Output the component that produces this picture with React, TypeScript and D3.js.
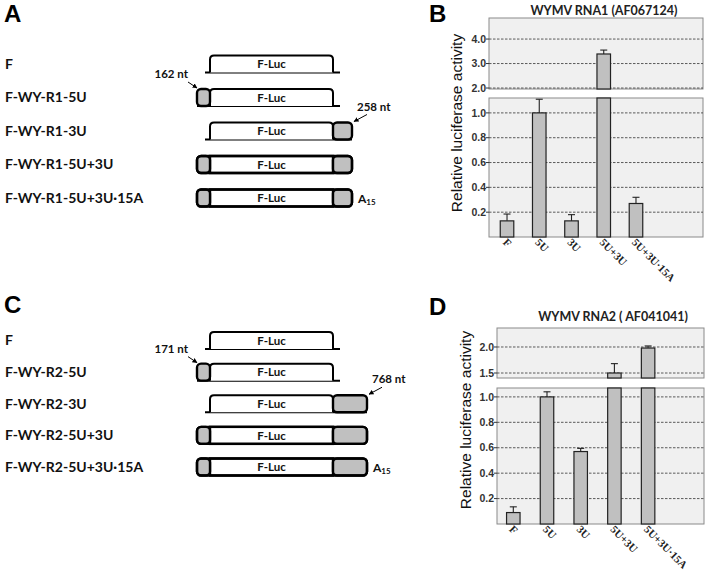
import React from "react";
import * as d3 from "d3";

// ---------------- data ----------------
const constructsR1 = ["F", "F-WY-R1-5U", "F-WY-R1-3U", "F-WY-R1-5U+3U", "F-WY-R1-5U+3U·15A"];
const constructsR2 = ["F", "F-WY-R2-5U", "F-WY-R2-3U", "F-WY-R2-5U+3U", "F-WY-R2-5U+3U·15A"];
const has5UTR = [false, true, false, true, true];
const has3UTR = [false, false, true, true, true];
const hasPolyA = [false, false, false, false, true];
const utrLabelsR1 = ["162 nt", "258 nt"];
const utrLabelsR2 = ["171 nt", "768 nt"];

const categories = ["F", "5U", "3U", "5U+3U", "5U+3U·15A"];
const rna1Mean = [0.13, 1.0, 0.13, 3.39, 0.27];
const rna1Err = [0.055, 0.11, 0.05, 0.16, 0.05];
const rna2Mean = [0.09, 1.0, 0.57, 1.5, 1.98];
const rna2Err = [0.045, 0.04, 0.025, 0.18, 0.04];
const rna1LowTicks = [0.2, 0.4, 0.6, 0.8, 1.0];
const rna1HighTicks = [2.0, 3.0, 4.0];
const rna2LowTicks = [0.2, 0.4, 0.6, 0.8, 1.0];
const rna2HighTicks = [1.5, 2.0];

const SANS = "Lato, 'Open Sans', sans-serif";
const ARIAL = "'Liberation Sans', Arial, sans-serif";
const SERIF = "'Liberation Serif', 'Times New Roman', serif";

// ---------------- construct diagrams ----------------
type ConstructProps = {
  names: string[];
  rowRange: [number, number];
  x5: [number, number];
  xLuc: [number, number];
  x3: [number, number];
  utrLabels: string[];
  letter: string;
  letterY: number;
};

function ConstructPanel(p: ConstructProps) {
  const y = d3.scalePoint<number>().domain(d3.range(p.names.length)).range(p.rowRange);
  const h = 17;
  const r = 4;
  const sw = 2.4;
  return (
    <g>
      <text x={4} y={p.letterY} fontFamily={ARIAL} fontWeight="bold" fontSize={24} fill="#000">{p.letter}</text>
      {p.names.map((name, i) => {
        const cy = y(i)!;
        const top = cy - h / 2;
        const bot = cy + h / 2;
        const closed = has5UTR[i] && has3UTR[i];
        const [l, rr] = p.xLuc;
        const openPath = `M${l},${bot} V${top + r} Q${l},${top} ${l + r},${top} H${rr - r} Q${rr},${top} ${rr},${top + r} V${bot}`;
        const lineStart = has5UTR[i] ? p.x5[0] : l - 5;
        const lineEnd = has3UTR[i] ? p.x3[1] : rr + 7;
        return (
          <g key={name}>
            <text x={5} y={cy} dy="0.35em" fontFamily={SANS} fontWeight="bold" fontSize={14} fill="#111">{name}</text>
            {!closed && (
              <line x1={lineStart} x2={lineEnd} y1={bot} y2={bot} stroke="#000" strokeWidth={2} />
            )}
            {closed ? (
              <rect x={l} y={top} width={rr - l} height={h} fill="#fff" stroke="#000" strokeWidth={sw} />
            ) : (
              <path d={openPath} fill="#fff" stroke="#000" strokeWidth={2} />
            )}
            {has5UTR[i] && (
              <rect x={p.x5[0]} y={top} width={p.x5[1] - p.x5[0]} height={h} rx={r} fill="#c0c0c0" stroke="#000" strokeWidth={sw} />
            )}
            {has3UTR[i] && (
              <rect x={p.x3[0]} y={top} width={p.x3[1] - p.x3[0]} height={h} rx={r} fill="#c0c0c0" stroke="#000" strokeWidth={sw} />
            )}
            {closed && (
              <rect x={p.x5[0]} y={top} width={p.x3[1] - p.x5[0]} height={h} rx={r} fill="none" stroke="#000" strokeWidth={sw} />
            )}
            <text x={(l + rr) / 2} y={cy} dy="0.38em" textAnchor="middle" fontFamily={SANS} fontWeight="bold" fontSize={11.5} fill="#111">F-Luc</text>
            {hasPolyA[i] && (
              <text x={p.x3[1] + 6} y={cy + 5} fontFamily={SANS} fontWeight="bold" fontSize={12} fill="#111">
                A<tspan fontSize={8} dy={2}>15</tspan>
              </text>
            )}
          </g>
        );
      })}
      {(() => {
        const t5 = { x: p.x5[0] + 1, y: y(1)! - h / 2 };
        const t3 = { x: p.x3[1] + 1, y: y(2)! - h / 2 };
        return (
          <g>
            <text x={t5.x - 10} y={t5.y - 11} textAnchor="end" fontFamily={SANS} fontWeight="bold" fontSize={11.5} fill="#111">{p.utrLabels[0]}</text>
            <line x1={t5.x - 10} y1={t5.y - 7} x2={t5.x - 1} y2={t5.y - 1} stroke="#000" strokeWidth={1} markerEnd="url(#arrow)" />
            <text x={t3.x + 4} y={t3.y - 12} fontFamily={SANS} fontWeight="bold" fontSize={11.5} fill="#111">{p.utrLabels[1]}</text>
            <line x1={t3.x + 14} y1={t3.y - 8} x2={t3.x + 1} y2={t3.y - 1} stroke="#000" strokeWidth={1} markerEnd="url(#arrow)" />
          </g>
        );
      })()}
    </g>
  );
}

// ---------------- bar charts ----------------
type Segment = { y0: number; y1: number; domain: [number, number]; ticks: number[] };
type BarProps = {
  letter: string;
  letterPos: [number, number];
  title: string;
  titlePos: [number, number];
  left: number;
  right: number;
  low: Segment;
  high: Segment;
  xRange: [number, number];
  pad: number;
  means: number[];
  errs: number[];
  yLabelPos: [number, number];
};

function BarPanel(p: BarProps) {
  const x = d3.scaleBand<string>().domain(categories).range(p.xRange).paddingInner(p.pad).paddingOuter(p.pad / 2);
  const yl = d3.scaleLinear().domain(p.low.domain).range([p.low.y0, p.low.y1]);
  const yh = d3.scaleLinear().domain(p.high.domain).range([p.high.y0, p.high.y1]);
  const segs = [
    { s: p.low, y: yl },
    { s: p.high, y: yh },
  ];
  const bw = x.bandwidth();
  return (
    <g>
      <text x={p.letterPos[0]} y={p.letterPos[1]} fontFamily={ARIAL} fontWeight="bold" fontSize={24} fill="#000">{p.letter}</text>
      <text x={p.titlePos[0]} y={p.titlePos[1]} dy="0.35em" textAnchor="middle" fontFamily={SANS} fontWeight="bold" fontSize={12.5} fill="#222">{p.title}</text>
      <text transform={`translate(${p.yLabelPos[0]},${p.yLabelPos[1]}) rotate(-90)`} textAnchor="middle" fontFamily={ARIAL} fontSize={15.5} fill="#111">Relative luciferase activity</text>
      {segs.map(({ s, y }, si) => (
        <g key={si}>
          <rect x={p.left} y={s.y1} width={p.right - p.left} height={s.y0 - s.y1} fill="#f0f0f0" stroke="#8a8a8a" strokeWidth={1} />
          {s.ticks.map((t) => (
            <g key={t}>
              <line x1={p.left} x2={p.right} y1={y(t)} y2={y(t)} stroke="#333" strokeWidth={0.8} strokeDasharray="2.5,1.5" />
              <line x1={p.left - 3} x2={p.left} y1={y(t)} y2={y(t)} stroke="#333" strokeWidth={1} />
              <text x={p.left - 3} y={y(t)} dy="0.35em" textAnchor="end" fontFamily={ARIAL} fontWeight="bold" fontSize={10.5} fill="#333">{d3.format(".1f")(t)}</text>
            </g>
          ))}
        </g>
      ))}
      {categories.map((c, i) => {
        const v = p.means[i];
        const e = p.errs[i];
        const bx = x(c)!;
        const cx = bx + bw / 2;
        const lowTop = yl(Math.min(v, p.low.domain[1]));
        const inHigh = v > p.low.domain[1];
        const errSeg = v + e > p.low.domain[1] ? yh : yl;
        const topY = inHigh ? yh(v) : yl(v);
        const errY = errSeg(v + e);
        return (
          <g key={c}>
            <rect x={bx} y={lowTop} width={bw} height={p.low.y0 - lowTop} fill="#c0c0c0" stroke="#222" strokeWidth={1.2} />
            {inHigh && (
              <rect x={bx} y={yh(v)} width={bw} height={p.high.y0 - yh(v)} fill="#c0c0c0" stroke="#222" strokeWidth={1.2} />
            )}
            <line x1={cx} x2={cx} y1={topY} y2={errY} stroke="#222" strokeWidth={1.1} />
            <line x1={cx - 3.5} x2={cx + 3.5} y1={errY} y2={errY} stroke="#222" strokeWidth={1.1} />
            <text transform={`translate(${bx + 2},${p.low.y0 + 6}) rotate(45)`} fontFamily={SERIF} fontWeight="bold" fontSize={11} fill="#222">{c}</text>
          </g>
        );
      })}
    </g>
  );
}

export default function App() {
  return (
    <svg width={709} height={573} viewBox="0 0 709 573" style={{ position: "absolute", left: 0, top: 0, background: "#fff" }}>
      <defs>
        <marker id="arrow" viewBox="0 0 10 10" refX={9} refY={5} markerWidth={5} markerHeight={5} orient="auto">
          <path d="M0,0 L10,5 L0,10 z" fill="#000" />
        </marker>
      </defs>
      <rect width={709} height={573} fill="#fff" />
      <ConstructPanel
        names={constructsR1}
        rowRange={[64, 198]}
        x5={[197, 210]}
        xLuc={[210, 333]}
        x3={[333, 352]}
        utrLabels={utrLabelsR1}
        letter="A"
        letterY={22}
      />
      <ConstructPanel
        names={constructsR2}
        rowRange={[340.5, 467]}
        x5={[197, 210]}
        xLuc={[210, 333]}
        x3={[333, 367]}
        utrLabels={utrLabelsR2}
        letter="C"
        letterY={313}
      />
      <BarPanel
        letter="B"
        letterPos={[429, 22]}
        title="WYMV RNA1 (AF067124)"
        titlePos={[604, 11]}
        left={489}
        right={703}
        low={{ y0: 237, y1: 98, domain: [0, 1.12], ticks: rna1LowTicks }}
        high={{ y0: 89, y1: 18, domain: [1.96, 4.86], ticks: rna1HighTicks }}
        xRange={[490.9, 652.1]}
        pad={0.58}
        means={rna1Mean}
        errs={rna1Err}
        yLabelPos={[462, 123]}
      />
      <BarPanel
        letter="D"
        letterPos={[429, 315]}
        title="WYMV RNA2 ( AF041041)"
        titlePos={[613, 317]}
        left={497}
        right={704}
        low={{ y0: 524, y1: 388, domain: [0, 1.07], ticks: rna2LowTicks }}
        high={{ y0: 378, y1: 328, domain: [1.404, 2.365], ticks: rna2HighTicks }}
        xRange={[496.45, 664.95]}
        pad={0.6}
        means={rna2Mean}
        errs={rna2Err}
        yLabelPos={[471, 420]}
      />
    </svg>
  );
}
